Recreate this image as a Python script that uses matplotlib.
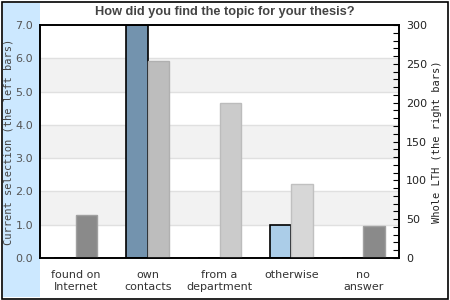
import matplotlib.pyplot as plt
from matplotlib.patches import Rectangle
from matplotlib.ticker import MultipleLocator, FormatStrFormatter

# chart data
categories = ["found on\nInternet", "own\ncontacts", "from a\ndepartment", "otherwise", "no\nanswer"]
current_selection = [0, 7, 0, 1, 0]
whole_lth = [55, 254, 199, 95, 41]
current_colors = ["#7393ae", "#7393ae", "#7393ae", "#abcde8", "#7393ae"]
whole_colors = ["#8a8a8a", "#bdbdbd", "#cbcbcb", "#d7d7d7", "#8a8a8a"]
whole_edges = ["#a0a0a0", "#b0b0b0", "#bcbcbc", "#c0c0c0", "#a0a0a0"]

W, H = 450, 300
fig = plt.figure(figsize=(W / 100, H / 100), dpi=100)

# outer frame and blue side panel (behind the axes)
fig.patches.append(Rectangle((1.5 / W, 1.5 / H), 1 - 4 / W, 1 - 3.5 / H, transform=fig.transFigure,
                             fill=False, edgecolor="black", linewidth=1.2, zorder=-2))
fig.patches.append(Rectangle((3 / W, 3 / H), 37 / W, 1 - 6 / H, transform=fig.transFigure,
                             facecolor="#cce8ff", edgecolor="none", zorder=-1))

ax = fig.add_axes([40 / W, 1 - 258 / H, 359 / W, 233 / H])
ax2 = ax.twinx()

x = range(len(categories))
bw = 0.3

# alternating bands and grid on the left axis
for lo in (1, 3, 5):
    ax.axhspan(lo, lo + 1, color="#f2f2f2", zorder=0, linewidth=0)
for v in range(1, 7):
    ax.axhline(v, color="#e0e0e0", linewidth=1, zorder=0.5)

ax.bar([i - bw / 2 for i in x], current_selection, width=bw, color=current_colors,
       edgecolor="black", linewidth=1.2, zorder=2)
ax2.bar([i + bw / 2 for i in x], whole_lth, width=bw, color=whole_colors,
        edgecolor=whole_edges, linewidth=1, zorder=2)

ax.set_xlim(-0.5, len(categories) - 0.5)
ax.set_ylim(0, 7)
ax2.set_ylim(0, 300)

ax.set_xticks(list(x))
ax.set_xticklabels(categories, fontsize=8, color="#333333", linespacing=1.3)
ax.tick_params(axis="x", length=0, pad=8.5)
ax.set_yticks(range(0, 8))
ax.yaxis.set_major_formatter(FormatStrFormatter("%.1f"))
ax.tick_params(axis="y", length=0, pad=5, labelsize=8, labelcolor="#555555")

ax2.yaxis.set_major_locator(MultipleLocator(50))
ax2.yaxis.set_minor_locator(MultipleLocator(10))
ax2.tick_params(axis="y", which="both", direction="in", length=4, width=0.8,
                pad=5, labelsize=8, labelcolor="#222222")

for a in (ax, ax2):
    for s in a.spines.values():
        s.set_linewidth(1.2)
        s.set_color("black")

ax.set_ylabel("Current selection (the left bars)", family="DejaVu Sans Mono",
              fontsize=7.5, color="#444444")
ax.yaxis.set_label_coords((14 - 40) / 359, 0.5)
ax2.set_ylabel("Whole LTH (the right bars)", family="DejaVu Sans Mono",
               fontsize=7.5, color="#222222")
ax2.yaxis.set_label_coords((432 - 40) / 359, 0.5)

fig.text(225 / W, 1 - 12 / H, "How did you find the topic for your thesis?",
         family="Liberation Sans", weight="bold", fontsize=9.2, color="#444444",
         ha="center", va="center")

fig.savefig("out.png", dpi=100)
